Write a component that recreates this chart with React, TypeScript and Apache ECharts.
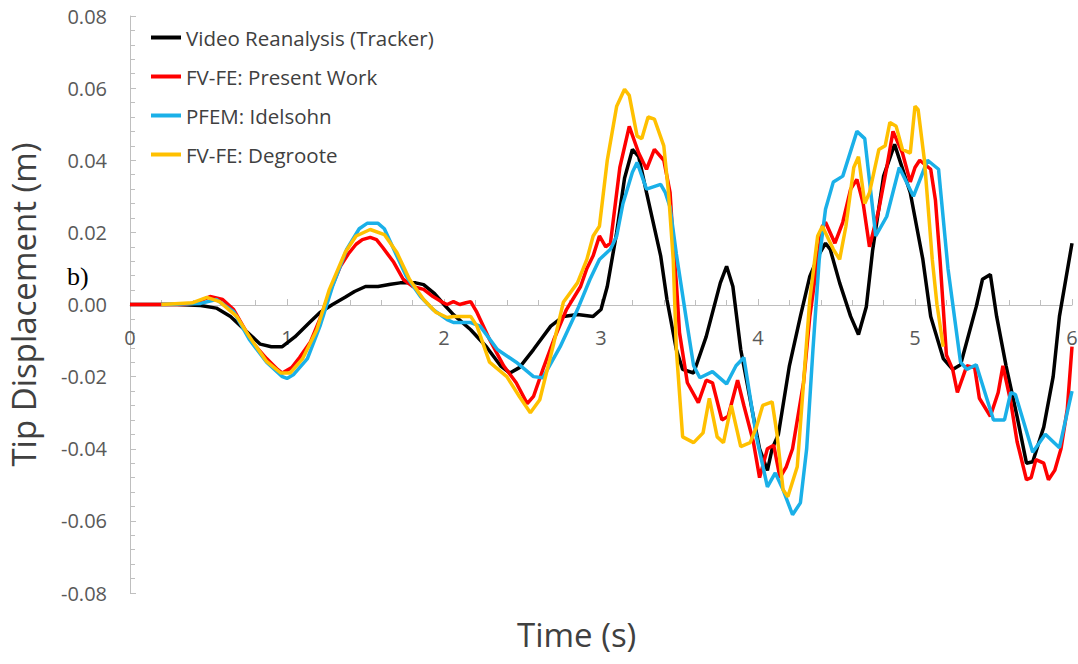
import React, { useEffect, useRef } from "react";
import * as echarts from "echarts";

const seriesNames = [
  "Video Reanalysis (Tracker)",
  "FV-FE: Present Work",
  "PFEM: Idelsohn",
  "FV-FE: Degroote",
];
const seriesColors = ["#000000", "#ff0000", "#1ab0e8", "#ffc000"];

const yTicks = [-0.08, -0.06, -0.04, -0.02, 0, 0.02, 0.04, 0.06, 0.08];
const xTicks = [0, 1, 2, 3, 4, 5, 6];

const tracker: number[][] = [
  [0, 0], [0.3, 0], [0.45, -0.0003], [0.55, -0.001], [0.64, -0.0033], [0.73, -0.007],
  [0.83, -0.011], [0.9, -0.0117], [0.97, -0.0117], [1.05, -0.009], [1.15, -0.0047],
  [1.21, -0.0022], [1.29, 0], [1.37, 0.002], [1.43, 0.0036], [1.5, 0.005], [1.58, 0.005],
  [1.66, 0.0056], [1.72, 0.006], [1.82, 0.006], [1.87, 0.0055], [1.94, 0.003], [2.0, 0],
  [2.06, -0.0028], [2.17, -0.007], [2.27, -0.0117], [2.36, -0.017], [2.42, -0.019],
  [2.48, -0.0175], [2.57, -0.0125], [2.68, -0.006], [2.76, -0.0033], [2.85, -0.0028],
  [2.95, -0.0033], [3.0, -0.0014], [3.04, 0.005], [3.1, 0.02], [3.15, 0.035], [3.2, 0.043],
  [3.24, 0.041], [3.29, 0.031], [3.38, 0.0135], [3.42, 0.0014], [3.48, -0.0125],
  [3.52, -0.018], [3.59, -0.019], [3.67, -0.0089], [3.76, 0.006], [3.8, 0.0106],
  [3.84, 0.005], [3.89, -0.0125], [3.93, -0.0217], [3.97, -0.031], [4.01, -0.04],
  [4.06, -0.046], [4.09, -0.04], [4.13, -0.036], [4.2, -0.017], [4.27, -0.0033],
  [4.33, 0.0078], [4.39, 0.014], [4.43, 0.017], [4.46, 0.0153], [4.52, 0.006],
  [4.59, -0.0033], [4.64, -0.0083], [4.69, -0.0006], [4.73, 0.015], [4.8, 0.0356],
  [4.87, 0.0444], [4.97, 0.031], [5.05, 0.0125], [5.1, -0.0033], [5.18, -0.015],
  [5.24, -0.018], [5.29, -0.0167], [5.39, -0.0006], [5.43, 0.007], [5.48, 0.0083],
  [5.52, -0.0033], [5.58, -0.017], [5.65, -0.031], [5.71, -0.044], [5.75, -0.0436],
  [5.82, -0.034], [5.88, -0.02], [5.92, -0.0033], [6.0, 0.017],
];

const presentWork: number[][] = [
  [0, 0], [0.35, 0], [0.42, 0.0005], [0.51, 0.0022], [0.59, 0.0014], [0.66, -0.0014],
  [0.72, -0.006], [0.78, -0.0106], [0.87, -0.015], [0.94, -0.018], [0.97, -0.019],
  [1.03, -0.0175], [1.08, -0.0147], [1.15, -0.0103], [1.21, -0.004], [1.27, 0.0033],
  [1.34, 0.0106], [1.39, 0.014], [1.44, 0.0167], [1.48, 0.018], [1.53, 0.0186],
  [1.57, 0.018], [1.61, 0.0158], [1.68, 0.0117], [1.74, 0.007], [1.8, 0.005],
  [1.87, 0.0042], [1.93, 0.0022], [1.99, 0.0006], [2.02, 0], [2.06, 0.0008], [2.1, 0],
  [2.14, 0.0005], [2.17, 0.0008], [2.21, -0.0022], [2.29, -0.0097], [2.38, -0.017],
  [2.46, -0.0217], [2.53, -0.0275], [2.57, -0.0255], [2.63, -0.018], [2.7, -0.0097],
  [2.78, -0.0014], [2.87, 0.005], [2.91, 0.01], [2.95, 0.0135], [2.99, 0.019],
  [3.03, 0.016], [3.06, 0.017], [3.12, 0.038], [3.18, 0.0494], [3.24, 0.042],
  [3.29, 0.0375], [3.34, 0.043], [3.4, 0.04], [3.44, 0.031], [3.46, 0.017], [3.48, 0.006],
  [3.5, -0.0078], [3.55, -0.0217], [3.62, -0.0272], [3.67, -0.021], [3.71, -0.0217],
  [3.77, -0.032], [3.81, -0.031], [3.87, -0.021], [3.91, -0.028], [3.97, -0.038],
  [4.01, -0.048], [4.06, -0.04], [4.1, -0.039], [4.14, -0.048], [4.18, -0.045],
  [4.22, -0.04], [4.29, -0.0217], [4.33, -0.0033], [4.38, 0.0125], [4.41, 0.0217],
  [4.43, 0.0228], [4.49, 0.017], [4.54, 0.0228], [4.59, 0.032], [4.63, 0.0347],
  [4.67, 0.028], [4.71, 0.016], [4.77, 0.0264], [4.82, 0.038], [4.86, 0.048],
  [4.92, 0.042], [4.97, 0.034], [5.0, 0.038], [5.03, 0.04], [5.1, 0.0375], [5.13, 0.029],
  [5.16, 0.012], [5.2, -0.014], [5.24, -0.018], [5.27, -0.0244], [5.33, -0.017],
  [5.38, -0.0175], [5.41, -0.026], [5.48, -0.031], [5.53, -0.0244], [5.56, -0.017],
  [5.61, -0.027], [5.65, -0.038], [5.71, -0.0486], [5.74, -0.048], [5.77, -0.043],
  [5.82, -0.044], [5.85, -0.0486], [5.89, -0.046], [5.93, -0.04], [5.97, -0.029],
  [6.0, -0.0117],
];

const idelsohn: number[][] = [
  [0.2, 0], [0.45, 0.0003], [0.55, 0.0014], [0.66, -0.002], [0.76, -0.0097],
  [0.87, -0.016], [0.97, -0.02], [1.0, -0.0205], [1.04, -0.0195], [1.13, -0.015],
  [1.21, -0.006], [1.29, 0.005], [1.38, 0.0153], [1.46, 0.021], [1.51, 0.0225],
  [1.58, 0.0225], [1.62, 0.021], [1.68, 0.0153], [1.76, 0.0078], [1.85, 0.0022],
  [1.93, -0.0014], [2.02, -0.0042], [2.06, -0.005], [2.17, -0.005], [2.23, -0.006],
  [2.34, -0.0125], [2.46, -0.016], [2.57, -0.02], [2.63, -0.0203], [2.74, -0.0117],
  [2.85, -0.0014], [2.93, 0.007], [2.99, 0.0125], [3.06, 0.0153], [3.1, 0.019],
  [3.14, 0.028], [3.2, 0.0367], [3.23, 0.0394], [3.29, 0.032], [3.38, 0.0333],
  [3.41, 0.031], [3.44, 0.027], [3.48, 0.014], [3.55, -0.006], [3.59, -0.017],
  [3.63, -0.0203], [3.71, -0.0186], [3.8, -0.022], [3.86, -0.017], [3.91, -0.0147],
  [3.99, -0.0367], [4.06, -0.0506], [4.11, -0.0467], [4.16, -0.0514], [4.22, -0.0583],
  [4.27, -0.055], [4.31, -0.04], [4.35, -0.0125], [4.39, 0.0125], [4.43, 0.0264],
  [4.48, 0.034], [4.54, 0.0356], [4.63, 0.048], [4.68, 0.046], [4.75, 0.019],
  [4.82, 0.0244], [4.9, 0.038], [4.99, 0.03], [5.08, 0.04], [5.15, 0.0375], [5.21, 0.01],
  [5.29, -0.016], [5.33, -0.018], [5.39, -0.0167], [5.5, -0.032], [5.57, -0.032],
  [5.61, -0.0244], [5.64, -0.025], [5.75, -0.041], [5.83, -0.036], [5.92, -0.0397],
  [6.0, -0.024],
];

const degroote: number[][] = [
  [0.2, 0], [0.4, 0.0005], [0.49, 0.002], [0.57, 0.0008], [0.68, -0.0033], [0.76, -0.0089],
  [0.87, -0.0158], [0.96, -0.019], [1.02, -0.019], [1.1, -0.015], [1.19, -0.007],
  [1.27, 0.0042], [1.37, 0.0144], [1.44, 0.019], [1.53, 0.0208], [1.62, 0.0194],
  [1.7, 0.0144], [1.78, 0.007], [1.87, 0.0014], [1.95, -0.0022], [2.02, -0.0036],
  [2.06, -0.0033], [2.17, -0.0033], [2.21, -0.006], [2.29, -0.016], [2.4, -0.02],
  [2.48, -0.0255], [2.55, -0.03], [2.61, -0.0264], [2.7, -0.0106], [2.76, 0.0006],
  [2.85, 0.006], [2.91, 0.0125], [2.95, 0.019], [2.99, 0.0217], [3.04, 0.04],
  [3.1, 0.055], [3.15, 0.0597], [3.18, 0.058], [3.23, 0.0467], [3.26, 0.046],
  [3.3, 0.052], [3.34, 0.0514], [3.4, 0.044], [3.43, 0.031], [3.46, 0.0125],
  [3.48, -0.0125], [3.52, -0.0367], [3.59, -0.0383], [3.65, -0.0356], [3.69, -0.026],
  [3.74, -0.0367], [3.78, -0.0383], [3.83, -0.028], [3.89, -0.0394], [3.95, -0.0383],
  [3.99, -0.034], [4.03, -0.028], [4.09, -0.027], [4.12, -0.0356], [4.16, -0.0514],
  [4.19, -0.0533], [4.25, -0.045], [4.29, -0.0217], [4.33, 0.0014], [4.38, 0.019],
  [4.41, 0.0217], [4.45, 0.018], [4.48, 0.0153], [4.52, 0.0125], [4.56, 0.0217],
  [4.61, 0.038], [4.64, 0.041], [4.68, 0.028], [4.71, 0.031], [4.77, 0.043],
  [4.81, 0.044], [4.84, 0.0505], [4.88, 0.0494], [4.92, 0.043], [4.97, 0.042],
  [5.0, 0.055], [5.02, 0.054], [5.06, 0.04], [5.11, 0.0125], [5.14, 0], [5.18, -0.0117],
];

const seriesData = [tracker, presentWork, idelsohn, degroote];

const FONT = "'Open Sans', 'Noto Sans', sans-serif";

export default function App() {
  const ref = useRef<HTMLDivElement>(null);
  useEffect(() => {
    if (!ref.current) return;
    const chart = echarts.init(ref.current, undefined, { renderer: "svg" });
    const axisColor = "#bfbfbf";
    chart.setOption({
      animation: false,
      backgroundColor: "#ffffff",
      grid: {
        left: 130,
        right: 6,
        top: 16,
        bottom: 71,
        containLabel: false,
        outerBoundsMode: "none",
      },
      legend: {
        orient: "vertical",
        left: 146,
        top: 22,
        itemWidth: 30,
        itemHeight: 4,
        itemGap: 18,
        icon: "rect",
        data: seriesNames,
        textStyle: { fontFamily: FONT, fontSize: 20.5, color: "#404040" },
      },
      xAxis: {
        type: "value",
        min: xTicks[0],
        max: xTicks[xTicks.length - 1],
        interval: 1,
        offset: -288,
        axisLine: { show: true, onZero: false, lineStyle: { color: axisColor, width: 1 } },
        axisTick: { show: true, inside: true, length: 6, lineStyle: { color: axisColor } },
        minorTick: { show: true, splitNumber: 5, length: 5, lineStyle: { color: axisColor } },
        splitLine: { show: false },
        axisLabel: {
          margin: 22,
          fontFamily: FONT,
          fontSize: 20,
          color: "#595959",
          formatter: (v: number) => String(v),
        },
      },
      yAxis: {
        type: "value",
        min: yTicks[0],
        max: yTicks[yTicks.length - 1],
        interval: 0.02,
        name: "Tip Displacement (m)",
        nameLocation: "middle",
        nameGap: 90,
        nameTextStyle: { fontFamily: FONT, fontSize: 33, color: "#404040" },
        axisLine: { show: true, lineStyle: { color: axisColor, width: 1 } },
        axisTick: { show: true, inside: true, length: 6, lineStyle: { color: axisColor } },
        minorTick: { show: true, splitNumber: 5, length: 5, lineStyle: { color: axisColor } },
        splitLine: { show: false },
        axisLabel: {
          margin: 23,
          fontFamily: FONT,
          fontSize: 20,
          color: "#595959",
          formatter: (v: number) => v.toFixed(2),
        },
      },
      graphic: [
        {
          type: "text",
          left: 517,
          top: 618,
          style: { text: "Time (s)", font: `33px ${FONT}`, fill: "#404040" },
        },
        {
          type: "text",
          left: 67,
          top: 263,
          style: { text: "b)", font: "26px 'Liberation Serif', serif", fill: "#000000" },
        },
      ],
      series: seriesNames.map((name, i) => ({
        name,
        type: "line",
        data: seriesData[i],
        showSymbol: false,
        symbol: "none",
        smooth: false,
        color: seriesColors[i],
        lineStyle: { width: 3.5, color: seriesColors[i] },
        z: 2 + i,
      })),
    });
    return () => chart.dispose();
  }, []);
  return (
    <div
      ref={ref}
      style={{ position: "fixed", left: 0, top: 0, width: 1078, height: 664, background: "#fff" }}
    />
  );
}
